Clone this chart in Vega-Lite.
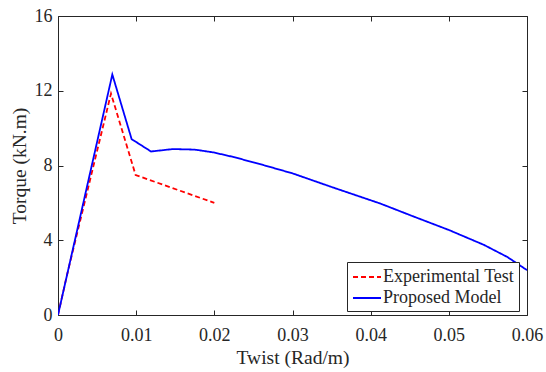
{
  "$schema": "https://vega.github.io/schema/vega-lite/v6.json",
  "width": 469,
  "height": 299,
  "autosize": {"type": "none"},
  "padding": {"left": 58, "top": 16, "right": 19, "bottom": 57},
  "background": "white",
  "config": {
    "view": {"stroke": null},
    "font": "Liberation Serif",
    "style": {
      "guide-label": {"font": "Liberation Serif", "fill": "#262626"},
      "guide-title": {"font": "Liberation Serif", "fill": "#262626"}
    },
    "axis": {
      "labelFont": "Liberation Serif",
      "labelFontSize": 18,
      "labelColor": "#262626",
      "labelFlush": false,
      "labelOverlap": false,
      "titleFont": "Liberation Serif",
      "titleFontSize": 19.5,
      "titleFontWeight": "normal",
      "titleColor": "#262626",
      "domainColor": "#262626",
      "tickColor": "#262626",
      "gridColor": "#e8e8e8",
      "tickSize": -5
    },
    "legend": {
      "labelFont": "Liberation Serif",
      "labelFontSize": 18,
      "labelColor": "#262626"
    }
  },
  "data": {
    "values": [
      {"series": "Experimental Test", "x": 0, "y": 0},
      {"series": "Experimental Test", "x": 0.0011, "y": 2.05},
      {"series": "Experimental Test", "x": 0.00678, "y": 11.85},
      {"series": "Experimental Test", "x": 0.00993, "y": 7.49},
      {"series": "Experimental Test", "x": 0.02, "y": 6.0},
      {"series": "Proposed Model", "x": 0, "y": 0},
      {"series": "Proposed Model", "x": 0.00695, "y": 12.87},
      {"series": "Proposed Model", "x": 0.00942, "y": 9.41},
      {"series": "Proposed Model", "x": 0.0119, "y": 8.75},
      {"series": "Proposed Model", "x": 0.0147, "y": 8.88},
      {"series": "Proposed Model", "x": 0.0175, "y": 8.85},
      {"series": "Proposed Model", "x": 0.0199, "y": 8.7},
      {"series": "Proposed Model", "x": 0.0225, "y": 8.45},
      {"series": "Proposed Model", "x": 0.0263, "y": 8.02},
      {"series": "Proposed Model", "x": 0.03, "y": 7.58},
      {"series": "Proposed Model", "x": 0.035, "y": 6.85},
      {"series": "Proposed Model", "x": 0.0412, "y": 5.97},
      {"series": "Proposed Model", "x": 0.045, "y": 5.35},
      {"series": "Proposed Model", "x": 0.05, "y": 4.55},
      {"series": "Proposed Model", "x": 0.0545, "y": 3.75},
      {"series": "Proposed Model", "x": 0.0575, "y": 3.1},
      {"series": "Proposed Model", "x": 0.06, "y": 2.4}
    ]
  },
  "layer": [
    {
      "mark": {"type": "line", "opacity": 0},
      "encoding": {
        "x": {"field": "x", "type": "quantitative", "scale": {"domain": [0, 0.06], "nice": false},
          "axis": {"orient": "top", "labels": false, "grid": false, "title": null, "values": [0, 0.01, 0.02, 0.03, 0.04, 0.05, 0.06]}},
        "y": {"field": "y", "type": "quantitative", "scale": {"domain": [0, 16], "nice": false},
          "axis": {"orient": "right", "labels": false, "grid": false, "title": null, "values": [0, 4, 8, 12, 16]}},
        "detail": {"field": "series"}
      }
    },
    {
      "mark": {"type": "line", "strokeWidth": 1.8, "clip": true},
      "encoding": {
        "x": {"field": "x", "type": "quantitative", "scale": {"domain": [0, 0.06], "nice": false},
          "axis": {"orient": "bottom", "title": "Twist (Rad/m)", "format": ".2~f", "values": [0, 0.01, 0.02, 0.03, 0.04, 0.05, 0.06], "labelPadding": 16, "titlePadding": 4}},
        "y": {"field": "y", "type": "quantitative", "scale": {"domain": [0, 16], "nice": false},
          "axis": {"orient": "left", "title": "Torque (kN.m)", "values": [0, 4, 8, 12, 16], "labelPadding": 11, "titlePadding": 5}},
        "color": {"field": "series", "type": "nominal",
          "scale": {"domain": ["Experimental Test", "Proposed Model"], "range": ["#ff0000", "#0000ff"]},
          "legend": {"orient": "none", "legendX": 289, "legendY": 246, "title": null,
            "strokeColor": "#262626", "fillColor": "white", "padding": 4, "rowPadding": 1,
            "symbolType": "M-1.4,0H1.4", "symbolSize": 400, "symbolStrokeWidth": 1.8,
            "symbolOffset": 5, "labelOffset": 5}},
        "strokeDash": {"field": "series", "type": "nominal",
          "scale": {"domain": ["Experimental Test", "Proposed Model"], "range": [[5, 3], [1, 0]]},
          "legend": null}
      }
    }
  ],
  "resolve": {"scale": {"x": "independent", "y": "independent"}, "axis": {"x": "independent", "y": "independent"}}
}
